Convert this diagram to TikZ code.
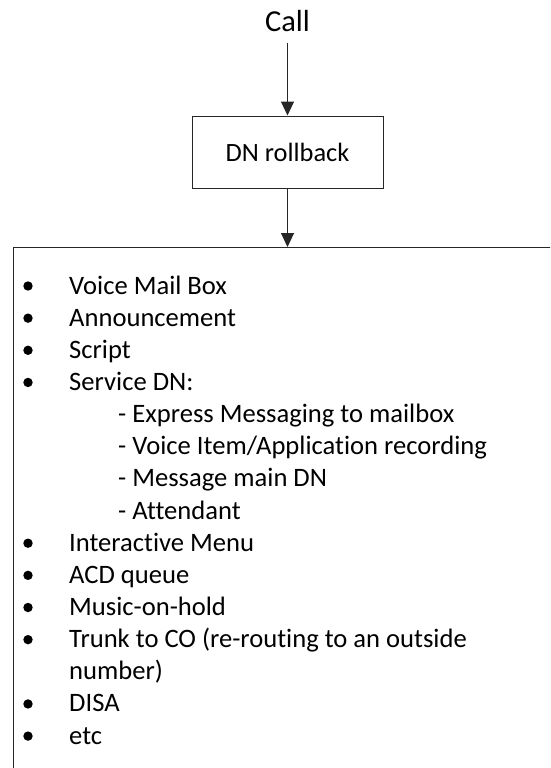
\documentclass[tikz,border=0pt]{standalone}
\usepackage{fontspec}
\setmainfont{Carlito}[Ligatures={NoCommon}]
\usetikzlibrary{arrows.meta}

\tikzset{
  flow/.style={draw=black!85, line width=1pt, -{Triangle[width=13pt,length=14pt]}},
  stepbox/.style={draw=black!85, line width=1pt, rectangle, minimum width=191pt,
    minimum height=72pt, inner sep=0pt, font=\fontsize{26.4}{32}\selectfont},
  title/.style={font=\fontsize{30.5}{36}\selectfont, inner xsep=0pt, inner ysep=11pt, anchor=base},
  panel/.style={draw=black!85, line width=1pt, rectangle, anchor=north west,
    minimum width=700pt, minimum height=600pt, inner sep=0pt},
  item/.style={anchor=base west, inner sep=0pt, font=\fontsize{26.6}{32}\selectfont},
  dot/.style={circle, fill=black, inner sep=0pt, minimum size=9.4pt}
}

\begin{document}
\begin{tikzpicture}[x=1pt, y={(0pt,-1pt)}]
  \path[use as bounding box, clip] (0,0) rectangle (550,768);
  \fill[white] (0,0) rectangle (550,768);

  % call entry and rollback step
  \node[title] (call) at (287.5,32) {Call};
  \node[stepbox] (dn) at (287.5,152) {DN rollback};

  % panel listing the rollback destinations
  \node[panel] (opts) at (12.5,247) {};

  \draw[flow] (call.south) -- (dn.north);
  \draw[flow] (dn.south) -- (dn.south |- opts.north);

  % list entries, one baseline every 32.15pt
  \def\lx{69}
  \def\sx{118}
  \node[item] (l1)  at (\lx,294.0) {Voice Mail Box};
  \node[item] (l2)  at (\lx,326.15) {Announcement};
  \node[item] (l3)  at (\lx,358.3) {Script};
  \node[item] (l4)  at (\lx,390.45) {Service DN:};
  \node[item] (l5)  at (\sx,422.6) {- Express Messaging to mailbox};
  \node[item] (l6)  at (\sx,454.75) {- Voice Item/Application recording};
  \node[item] (l7)  at (\sx,486.9) {- Message main DN};
  \node[item] (l8)  at (\sx,519.05) {- Attendant};
  \node[item] (l9)  at (\lx,551.2) {Interactive Menu};
  \node[item] (l10) at (\lx,583.35) {ACD queue};
  \node[item] (l11) at (\lx,615.5) {Music-on-hold};
  \node[item] (l12) at (\lx,647.65) {Trunk to CO (re-routing to an outside};
  \node[item] (l13) at (\lx,679.8) {number)};
  \node[item] (l14) at (\lx,711.95) {DISA};
  \node[item] (l15) at (\lx,744.1) {etc};

  % bullets beside the top-level entries
  \foreach \k in {1,2,3,4,9,10,11,12,14,15}
    \node[dot] (b\k) at (28,294-8+32.15*\k-32.15) {};
\end{tikzpicture}
\end{document}
